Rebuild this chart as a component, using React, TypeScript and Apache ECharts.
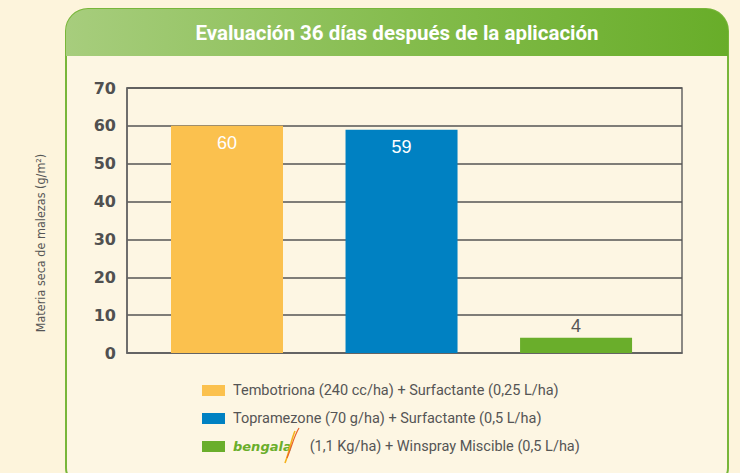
import React, { useEffect, useRef } from "react";
import * as echarts from "echarts";

const title = "Evaluación 36 días después de la aplicación";
const yAxisName = "Materia seca de malezas (g/m²)";
const categories = [
  "Tembotriona (240 cc/ha) + Surfactante (0,25 L/ha)",
  "Topramezone (70 g/ha) + Surfactante (0,5 L/ha)",
  "Bengala (1,1 Kg/ha) + Winspray Miscible (0,5 L/ha)",
];
const values = [60, 59, 4];
const colors = ["#fbc14e", "#0081c2", "#6aae2b"];
const yTicks = [0, 10, 20, 30, 40, 50, 60, 70];

export default function App() {
  const ref = useRef<HTMLDivElement>(null);
  useEffect(() => {
    if (!ref.current) return;
    const chart = echarts.init(ref.current, null, { renderer: "svg" });
    const font = "'Liberation Sans', Arial, sans-serif";
    const series = categories.map((name, i) => ({
      name,
      type: "bar",
      barWidth: 112,
      barGap: "-100%",
      data: [[i, values[i]]],
      itemStyle: { color: colors[i] },
      label: {
        show: true,
        position: i < 2 ? "insideTop" : "top",
        distance: i < 2 ? 8 : 3,
        color: i < 2 ? "#ffffff" : "#555555",
        fontSize: 18,
        fontFamily: font,
        formatter: (p: any) => String(p.value[1]),
      },
    }));
    chart.setOption({
      animation: false,
      backgroundColor: "#fdf4dc",
      graphic: [
        {
          type: "rect",
          z: -10,
          shape: { x: 66, y: 9, width: 662, height: 475, r: [22, 22, 16, 16] },
          style: { fill: "#fdf6e3", stroke: "#78b63a", lineWidth: 2 },
        },
        {
          type: "rect",
          z: -9,
          shape: { x: 66, y: 9, width: 662, height: 47, r: [22, 22, 0, 0] },
          style: {
            fill: new echarts.graphic.LinearGradient(0, 0, 1, 0, [
              { offset: 0, color: "#a7cd7d" },
              { offset: 0.55, color: "#82bb4a" },
              { offset: 1, color: "#68ad29" },
            ]),
          },
        },
        {
          type: "text",
          x: 397,
          y: 33,
          style: {
            text: title,
            fill: "#ffffff",
            font: "bold 20.5px Roboto, sans-serif",
            align: "center",
            verticalAlign: "middle",
          },
        },
        {
          type: "text",
          x: 40,
          y: 243,
          rotation: Math.PI / 2,
          style: {
            text: yAxisName,
            fill: "#555555",
            font: "12.5px 'Liberation Sans Narrow', 'DejaVu Sans Condensed', sans-serif",
            align: "center",
            verticalAlign: "middle",
          },
        },
        {
          type: "bezierCurve",
          z: 20,
          shape: { x1: 285, y1: 463, x2: 295, y2: 431, cpx1: 290, cpy1: 450, cpx2: 291, cpy2: 440 },
          style: { stroke: "#f5b21c", lineWidth: 1.6, fill: "none" },
        },
        {
          type: "bezierCurve",
          z: 20,
          shape: { x1: 287, y1: 458, x2: 299, y2: 428, cpx1: 292, cpy1: 446, cpx2: 294, cpy2: 436 },
          style: { stroke: "#e8632a", lineWidth: 1.2, fill: "none" },
        },
      ],
      legend: {
        orient: "vertical",
        left: 202,
        top: 383,
        itemWidth: 23,
        itemHeight: 11,
        itemGap: 13,
        padding: 0,
        icon: "rect",
        selectedMode: false,
        data: categories,
        textStyle: {
          color: "#555555",
          fontSize: 14.5,
          lineHeight: 15,
          fontFamily: "Roboto, sans-serif",
          padding: [0, 0, 0, 3],
          rich: {
            logo: {
              color: "#6aae2b",
              fontSize: 13,
              lineHeight: 15,
              fontWeight: "bold",
              fontStyle: "italic",
              fontFamily: "'DejaVu Sans', sans-serif",
            },
            t: {
              color: "#555555",
              fontSize: 14.5,
              lineHeight: 15,
              fontFamily: "Roboto, sans-serif",
            },
          },
        },
        formatter: (name: string) => {
          if (name.startsWith("Bengala")) {
            return "{logo|bengala}{t|     " + name.slice(8) + "}";
          }
          return name;
        },
      },
      grid: {
        left: 127,
        right: 58,
        top: 88,
        bottom: 120,
        show: true,
        borderColor: "#666666",
        borderWidth: 1.5,
        backgroundColor: "transparent",
      },
      xAxis: {
        type: "value",
        min: -0.573,
        max: 2.607,
        axisLabel: { show: false },
        axisTick: { show: false },
        splitLine: { show: false },
        axisLine: { show: true, onZero: false, lineStyle: { color: "#666666", width: 1.5 } },
      },
      yAxis: {
        type: "value",
        min: yTicks[0],
        max: yTicks[yTicks.length - 1],
        interval: 10,
        axisLine: { show: true, onZero: false, lineStyle: { color: "#666666", width: 1.5 } },
        axisTick: { show: false },
        axisLabel: {
          color: "#505050",
          fontSize: 16,
          fontWeight: "bold",
          fontFamily: "'DejaVu Sans', sans-serif",
          margin: 11,
        },
        splitLine: { show: true, lineStyle: { color: "#555555", width: 1.5 } },
      },
      series,
    });
    return () => chart.dispose();
  }, []);
  return (
    <div
      ref={ref}
      style={{ position: "fixed", left: 0, top: 0, width: 740, height: 473 }}
    />
  );
}
